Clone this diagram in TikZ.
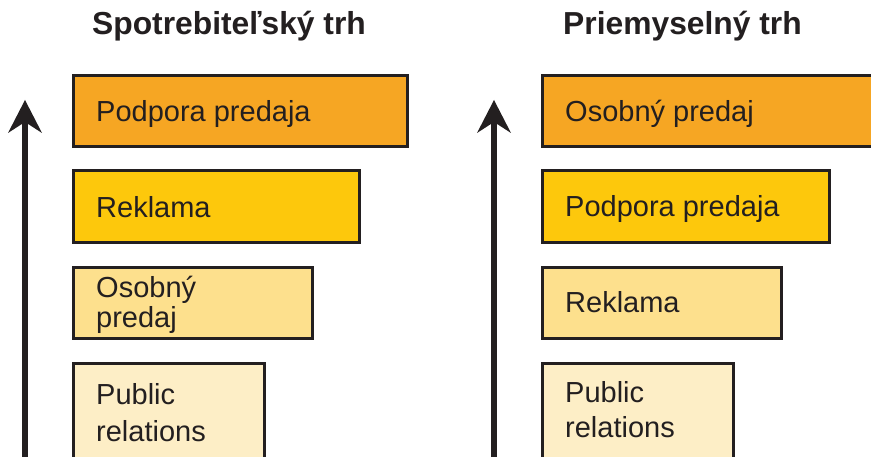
\documentclass[tikz,border=0pt]{standalone}
\usepackage{fontspec}
\setmainfont{Liberation Sans}
\usetikzlibrary{arrows.meta}
\definecolor{cBorder}{RGB}{35,31,32}
\definecolor{cOrange}{RGB}{246,166,35}
\definecolor{cYellow}{RGB}{253,200,12}
\definecolor{cLight}{RGB}{253,224,141}
\definecolor{cPale}{RGB}{253,238,198}
\begin{document}
\begin{tikzpicture}[x=1pt,y=-1pt,
  box/.style={draw=cBorder, line width=3pt, inner sep=0pt, anchor=north west},
  lbl/.style={anchor=base west, inner sep=0pt, text=cBorder, font=\fontsize{29}{34}\selectfont},
  ttl/.style={anchor=base, inner sep=0pt, text=cBorder, font=\bfseries\fontsize{31.8}{36}\selectfont},
  axisarrow/.style={draw=cBorder, line width=6pt, -{Stealth[length=33pt,width=34pt,inset=11pt,line width=0pt]}}]
\useasboundingbox (0,0) rectangle (871,457);
\clip (0,0) rectangle (871,457);
\fill[white] (0,0) rectangle (871,457);

% titles
\node[ttl] (tL) at (229,35) {Spotrebiteľský trh};
\node[ttl] (tR) at (682.5,35) {Priemyselný trh};

% arrows
\coordinate (aL0) at (25,475);
\coordinate (aL1) at (25,100);
\coordinate (aR0) at (494,475);
\coordinate (aR1) at (494,100);
\draw[axisarrow] (aL0) -- (aL1);
\draw[axisarrow] (aR0) -- (aR1);

% left column boxes
\node[box, fill=cOrange, minimum width=334pt, minimum height=71pt] (bL1) at (72,74) {};
\node[box, fill=cYellow, minimum width=286pt, minimum height=72pt] (bL2) at (72,169) {};
\node[box, fill=cLight,  minimum width=239pt, minimum height=71pt] (bL3) at (72,266) {};
\node[box, fill=cPale,   minimum width=191pt, minimum height=110pt] (bL4) at (72,362) {};
\node[lbl] (xL1) at (96,122) {Podpora predaja};
\node[lbl] (xL2) at (96,218) {Reklama};
\node[lbl] (xL3a) at (96,298) {Osobný};
\node[lbl] (xL3b) at (96,327) {predaj};
\node[lbl] (xL4a) at (96,404) {Public};
\node[lbl] (xL4b) at (96,441) {relations};

% right column boxes
\node[box, fill=cOrange, minimum width=360pt, minimum height=71pt] (bR1) at (541,74) {};
\node[box, fill=cYellow, minimum width=287pt, minimum height=72pt] (bR2) at (541,169) {};
\node[box, fill=cLight,  minimum width=239pt, minimum height=71pt] (bR3) at (541,266) {};
\node[box, fill=cPale,   minimum width=191pt, minimum height=110pt] (bR4) at (541,362) {};
\node[lbl] (xR1) at (565,122) {Osobný predaj};
\node[lbl] (xR2) at (565,217) {Podpora predaja};
\node[lbl] (xR3) at (565,313) {Reklama};
\node[lbl] (xR4a) at (565,402) {Public};
\node[lbl] (xR4b) at (565,437) {relations};
\end{tikzpicture}
\end{document}
